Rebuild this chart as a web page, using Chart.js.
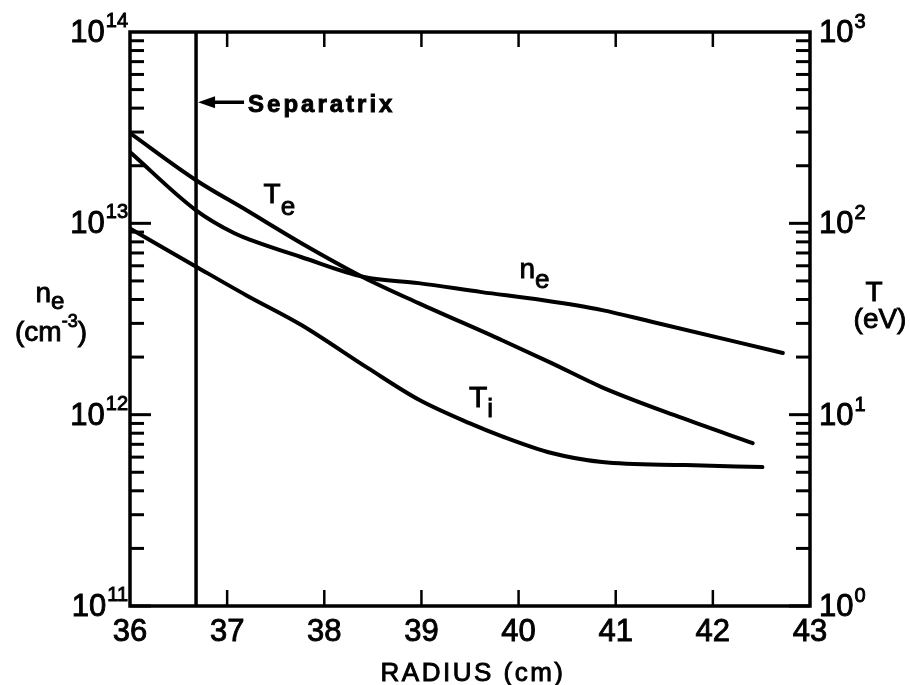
<!DOCTYPE html>
<html><head><meta charset="utf-8">
<script src="https://cdn.jsdelivr.net/npm/chart.js@4.4.1/dist/chart.umd.min.js"></script>
<style>html,body{margin:0;padding:0;background:#fff;}#wrap{width:910px;height:685px;position:relative;}</style>
</head><body><div id="wrap"><canvas id="c" width="910" height="685"></canvas></div>
<script>
// ---- data ----
const radiusNe = [36.0, 36.68, 37.07, 37.24, 37.76, 38.41, 38.97, 39.62, 40.24, 40.86, 41.38, 42.72];
const neValues = [2.36e13, 1.17e13, 8.9e12, 8.2e12, 6.67e12, 5.24e12, 4.87e12, 4.37e12, 3.97e12, 3.52e12, 3.05e12, 2.10e12];
const radiusTe = [36.0, 36.68, 37.2, 37.76, 38.41, 38.97, 39.83, 40.34, 40.86, 41.66, 42.41];
const teValues = [296, 168, 117, 79, 52, 38.3, 24.5, 18.6, 13.9, 9.7, 7.1];
const radiusTi = [36.0, 36.69, 37.2, 37.76, 38.45, 38.97, 39.5, 39.83, 40.34, 40.86, 41.72, 42.51];
const tiValues = [94, 59, 42, 29.5, 17.5, 12.0, 9.0, 7.7, 6.3, 5.65, 5.45, 5.32];
const separatrixR = 36.68;
const xTickValues = [36, 37, 38, 39, 40, 41, 42, 43];
const leftExponents = [11, 12, 13, 14];
const rightExponents = [0, 1, 2, 3];

const FONT = '"Liberation Sans", Arial, sans-serif';
const TS = 0.9; // text stroke for heavier lettering

function toXY(xs, ys){ return xs.map((x,i)=>({x:x, y:ys[i]})); }

function txt(ctx, t, x, y){ ctx.fillText(t, x, y); ctx.lineWidth = TS; ctx.strokeText(t, x, y); }

function drawRich(ctx, parts, x, y, align){
  let total = 0;
  parts.forEach(p=>{ ctx.font = (p.w||'normal')+' '+p.s+'px '+FONT; p.width = ctx.measureText(p.t).width; total += p.width + (p.gap||0); });
  let cx = align==='right' ? x-total : align==='center' ? x-total/2 : x;
  ctx.textAlign='left'; ctx.textBaseline='alphabetic';
  parts.forEach(p=>{ ctx.font = (p.w||'normal')+' '+p.s+'px '+FONT; txt(ctx, p.t, cx, y+(p.dy||0)); cx += p.width + (p.gap||0); });
}

const decor = {
  id:'decor',
  afterDraw(chart){
    const ctx = chart.ctx, a = chart.chartArea;
    const xs = chart.scales.x, yl = chart.scales.y, yr = chart.scales.y2;
    ctx.save();
    ctx.strokeStyle='#000'; ctx.fillStyle='#000'; ctx.lineCap='butt';
    ctx.lineWidth=3.5;
    ctx.strokeRect(a.left, a.top, a.right-a.left, a.bottom-a.top);
    ctx.lineWidth=3;
    for(let e=leftExponents[0]; e<leftExponents[leftExponents.length-1]; e++){
      for(let m=1;m<=9;m++){
        const py = yl.getPixelForValue(m*Math.pow(10,e));
        const len = m===1 ? 21 : 14;
        ctx.beginPath(); ctx.moveTo(a.left, py); ctx.lineTo(a.left+len, py); ctx.stroke();
      }
    }
    for(let e=rightExponents[0]; e<rightExponents[rightExponents.length-1]; e++){
      for(let m=1;m<=9;m++){
        const py = yr.getPixelForValue(m*Math.pow(10,e));
        const len = m===1 ? 21 : 14;
        ctx.beginPath(); ctx.moveTo(a.right, py); ctx.lineTo(a.right-len, py); ctx.stroke();
      }
    }
    ctx.lineWidth=2.5;
    xTickValues.slice(1,-1).forEach(v=>{
      const px = xs.getPixelForValue(v);
      ctx.beginPath(); ctx.moveTo(px, a.top); ctx.lineTo(px, a.top+15); ctx.stroke();
      ctx.beginPath(); ctx.moveTo(px, a.bottom); ctx.lineTo(px, a.bottom-16); ctx.stroke();
    });
    leftExponents.forEach(e=>{
      const py = yl.getPixelForValue(Math.pow(10,e));
      ctx.font='20px '+FONT; const ew = ctx.measureText(String(e)).width;
      ctx.textAlign='right'; ctx.textBaseline='alphabetic';
      txt(ctx, String(e), 128, py-5);
      ctx.font='31px '+FONT;
      txt(ctx, '10', 128-ew-1, py+10);
    });
    rightExponents.forEach(e=>{
      const py = yr.getPixelForValue(Math.pow(10,e));
      ctx.textAlign='left'; ctx.textBaseline='alphabetic';
      ctx.font='31px '+FONT; const w = ctx.measureText('10').width;
      txt(ctx, '10', a.right+9, py+10);
      ctx.font='20px '+FONT;
      txt(ctx, String(e), a.right+9+w+1, py-4);
    });
    drawRich(ctx, [{t:'n',s:28},{t:'e',s:24,dy:7}], 50, 302, 'center');
    drawRich(ctx, [{t:'(cm',s:28},{t:'-3',s:18,dy:-14},{t:')',s:28}], 51, 341, 'center');
    drawRich(ctx, [{t:'T',s:28}], 874, 301, 'center');
    drawRich(ctx, [{t:'(eV)',s:28}], 880, 328, 'center');
    ctx.letterSpacing='2.5px';
    drawRich(ctx, [{t:'RADIUS (cm)',s:26}], (a.left+a.right)/2+3, 681, 'center');
    ctx.letterSpacing='0px';
    let px = xs.getPixelForValue(37.375), py = yr.getPixelForValue(127.7);
    drawRich(ctx, [{t:'T',s:28},{t:'e',s:26,dy:12}], px, py, 'left');
    px = xs.getPixelForValue(40.01); py = yl.getPixelForValue(5.18e12);
    drawRich(ctx, [{t:'n',s:28},{t:'e',s:26,dy:10}], px, py, 'left');
    px = xs.getPixelForValue(39.49); py = yr.getPixelForValue(10.96);
    drawRich(ctx, [{t:'T',s:30},{t:'i',s:26,dy:10}], px, py, 'left');
    const sx = xs.getPixelForValue(separatrixR);
    const ay = yl.getPixelForValue(4.3e13);
    ctx.lineWidth=3.5;
    ctx.beginPath(); ctx.moveTo(sx+14, ay); ctx.lineTo(sx+48, ay); ctx.stroke();
    ctx.beginPath(); ctx.moveTo(sx+2, ay); ctx.lineTo(sx+19, ay-6); ctx.lineTo(sx+19, ay+6); ctx.closePath(); ctx.fill();
    ctx.letterSpacing='3px';
    drawRich(ctx, [{t:'Separatrix',s:24,w:'bold'}], sx+52, yl.getPixelForValue(3.82e13), 'left');
    ctx.letterSpacing='0px';
    ctx.restore();
  }
};

const lineStyle = {borderColor:'#000', borderWidth:4, pointRadius:0, fill:false, cubicInterpolationMode:'monotone', borderCapStyle:'round', borderJoinStyle:'round'};

new Chart(document.getElementById('c'), {
  type:'line',
  data:{datasets:[
    Object.assign({label:'n_e', data:toXY(radiusNe, neValues), yAxisID:'y'}, lineStyle),
    Object.assign({label:'T_e', data:toXY(radiusTe, teValues), yAxisID:'y2'}, lineStyle),
    Object.assign({label:'T_i', data:toXY(radiusTi, tiValues), yAxisID:'y2'}, lineStyle),
    Object.assign({label:'Separatrix', data:[{x:separatrixR,y:1e11},{x:separatrixR,y:1e14}], yAxisID:'y'}, lineStyle, {borderWidth:3.5, borderCapStyle:'butt', cubicInterpolationMode:'default', tension:0})
  ]},
  options:{
    responsive:false, animation:false, devicePixelRatio:1,
    layout:{padding:{top:32,left:0,right:0,bottom:0}},
    plugins:{legend:{display:false}, tooltip:{enabled:false}},
    scales:{
      x:{type:'linear', position:'bottom', min:36, max:43,
        afterBuildTicks:s=>{ s.ticks = xTickValues.map(v=>({value:v})); },
        ticks:{font:{family:FONT,size:31}, color:'#000', textStrokeColor:'#000', textStrokeWidth:TS, padding:8, maxRotation:0, autoSkip:false, callback:v=>String(v)},
        grid:{display:false, drawTicks:false}, border:{display:false},
        afterFit:s=>{ s.height = 79; }},
      y:{type:'logarithmic', position:'left', min:1e11, max:1e14,
        ticks:{display:false}, grid:{display:false, drawTicks:false}, border:{display:false},
        afterFit:s=>{ s.width = 130; }},
      y2:{type:'logarithmic', position:'right', min:1, max:1000,
        ticks:{display:false}, grid:{display:false, drawTicks:false}, border:{display:false},
        afterFit:s=>{ s.width = 100; }}
    }
  },
  plugins:[decor]
});
</script>
</body></html>
